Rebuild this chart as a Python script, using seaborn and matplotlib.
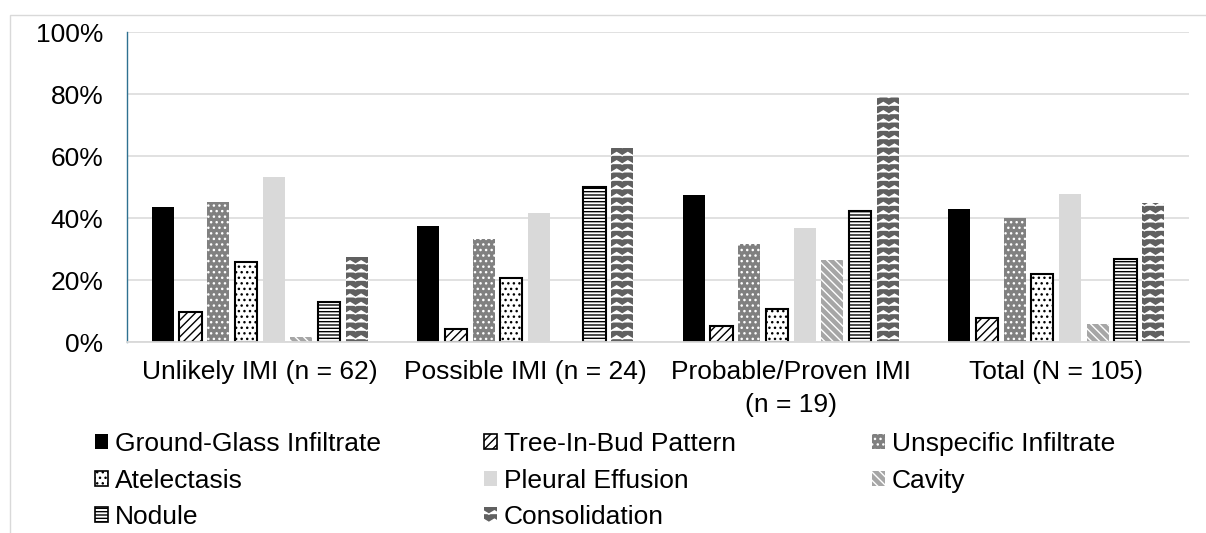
import numpy as np
import pandas as pd
import matplotlib
matplotlib.use("Agg")
import matplotlib.pyplot as plt
import matplotlib.patches as mpatches
from matplotlib import hatch as mhatch
from matplotlib.path import Path
import seaborn as sns

# ---- data (percent of patients per imaging finding) ----
groups = ["Unlikely IMI (n = 62)", "Possible IMI (n = 24)",
          "Probable/Proven IMI\n(n = 19)", "Total (N = 105)"]
findings = ["Ground-Glass Infiltrate", "Tree-In-Bud Pattern", "Unspecific Infiltrate",
            "Atelectasis", "Pleural Effusion", "Cavity", "Nodule", "Consolidation"]

ground_glass = [43.5, 37.5, 47.4, 42.9]
tree_in_bud = [9.7, 4.2, 5.3, 7.6]
unspecific = [45.2, 33.3, 31.6, 40.0]
atelectasis = [25.8, 20.8, 10.5, 21.9]
pleural_effusion = [53.2, 41.7, 36.8, 47.6]
cavity = [1.6, 0.0, 26.3, 5.7]
nodule = [12.9, 50.0, 42.1, 26.7]
consolidation = [27.4, 62.5, 78.9, 44.8]

y_ticks = [0, 20, 40, 60, 80, 100]
y_tick_labels = ["0%", "20%", "40%", "60%", "80%", "100%"]


# ---- a wavy (chevron) hatch, used for every 'O' in a hatch string ----
class WaveHatch(mhatch.HatchPatternBase):
    def __init__(self, hatch, density):
        self.num_rows = int(hatch.count('O') * density)
        self.periods = max(int(self.num_rows * 0.75), 1)
        self.pts = 2 * self.periods + 1
        self.num_vertices = self.num_rows * self.pts

    def set_vertices_and_codes(self, vertices, codes):
        if self.num_rows == 0:
            return
        step = 1.0 / self.num_rows
        xs = np.linspace(0.0, 1.0, self.pts)
        zig = np.tile([0.0, 0.4], self.periods + 1)[:self.pts] * step
        for i in range(self.num_rows):
            sl = slice(i * self.pts, (i + 1) * self.pts)
            vertices[sl, 0] = xs
            vertices[sl, 1] = i * step + 0.3 * step + zig
            codes[sl] = Path.LINETO
            codes[i * self.pts] = Path.MOVETO


mhatch._hatch_types = [h for h in mhatch._hatch_types
                       if h is not mhatch.LargeCircles] + [WaveHatch]

styles = {
    "Ground-Glass Infiltrate": dict(fc="#000000", ec="#000000", hatch=None, lw=0),
    "Tree-In-Bud Pattern": dict(fc="#ffffff", ec="#000000", hatch="////", lw=1.5),
    "Unspecific Infiltrate": dict(fc="#808080", ec="#ffffff", hatch="...", lw=0),
    "Atelectasis": dict(fc="#ffffff", ec="#000000", hatch="...", lw=1.5),
    "Pleural Effusion": dict(fc="#d9d9d9", ec="#d9d9d9", hatch=None, lw=0),
    "Cavity": dict(fc="#a6a6a6", ec="#ffffff", hatch="\\\\\\\\", lw=0),
    "Nodule": dict(fc="#ffffff", ec="#000000", hatch="-----", lw=1.5),
    "Consolidation": dict(fc="#606060", ec="#ffffff", hatch="OO", lw=0),
}

series = [ground_glass, tree_in_bud, unspecific, atelectasis,
          pleural_effusion, cavity, nodule, consolidation]
rows = []
for name, vals in zip(findings, series):
    for g, v in zip(groups, vals):
        rows.append({"group": g, "finding": name, "pct": v})
df = pd.DataFrame(rows)

sns.set_theme(style="white")
plt.rcParams["font.family"] = ["Liberation Sans", "DejaVu Sans"]
plt.rcParams["hatch.linewidth"] = 1.0
plt.rcParams["text.color"] = "black"
plt.rcParams["xtick.color"] = "black"
plt.rcParams["ytick.color"] = "black"

FS = 19
W, H = 1206, 533
fig = plt.figure(figsize=(W / 100, H / 100), dpi=100)
ax = fig.add_axes([127 / W, 1 - 342 / H, (1189 - 127) / W, (342 - 32) / H])

sns.barplot(data=df, x="group", y="pct", hue="finding", order=groups,
            hue_order=findings, palette=[styles[f]["fc"] for f in findings],
            saturation=1, width=0.835, gap=0.2, errorbar=None, legend=False, ax=ax)

for name, cont in zip(findings, ax.containers):
    st = styles[name]
    for bar in cont:
        bar.set_facecolor(st["fc"])
        bar.set_edgecolor(st["ec"])
        bar.set_linewidth(st["lw"])
        if st["hatch"]:
            bar.set_hatch(st["hatch"])

ax.set_ylim(0, 100)
ax.set_yticks(y_ticks)
ax.set_yticklabels(y_tick_labels)
ax.set_xlabel("")
ax.set_ylabel("")
ax.yaxis.grid(True, color="#d9d9d9", linewidth=1.1)
ax.set_axisbelow(True)
for s in ("top", "right"):
    ax.spines[s].set_visible(False)
ax.spines["bottom"].set_color("#d9d9d9")
ax.spines["bottom"].set_linewidth(1.3)
ax.spines["left"].set_color("#2f7191")
ax.spines["left"].set_linewidth(1.0)
ax.tick_params(axis="y", length=0, pad=17, labelsize=FS, labelcolor="black")
ax.tick_params(axis="x", length=0, pad=13, labelsize=FS, labelcolor="black")
for lab in ax.get_xticklabels():
    lab.set_linespacing(1.45)

# chart frame
fig.patches.append(mpatches.Rectangle((10 / W, -0.1), 1.2, 1 - 15 / H + 0.1,
                                      transform=fig.transFigure, fill=False,
                                      edgecolor="#d9d9d9", linewidth=1.0))

# legend in three columns
columns = [["Ground-Glass Infiltrate", "Atelectasis", "Nodule"],
           ["Tree-In-Bud Pattern", "Pleural Effusion", "Consolidation"],
           ["Unspecific Infiltrate", "Cavity"]]
col_x = [95, 484, 872]
for names, x in zip(columns, col_x):
    handles = []
    for n in names:
        st = styles[n]
        handles.append(mpatches.Patch(facecolor=st["fc"], edgecolor=st["ec"],
                                      hatch=st["hatch"], linewidth=min(st["lw"], 1.2)))
    fig.legend(handles, names, loc="upper left", bbox_to_anchor=(x / W, 1 - 432 / H),
               frameon=False, fontsize=FS, labelcolor="black",
               handlelength=0.5, handleheight=0.5, handletextpad=0.25,
               labelspacing=0.48, borderpad=0, borderaxespad=0)

fig.savefig("out.png", dpi=100, facecolor="white")
